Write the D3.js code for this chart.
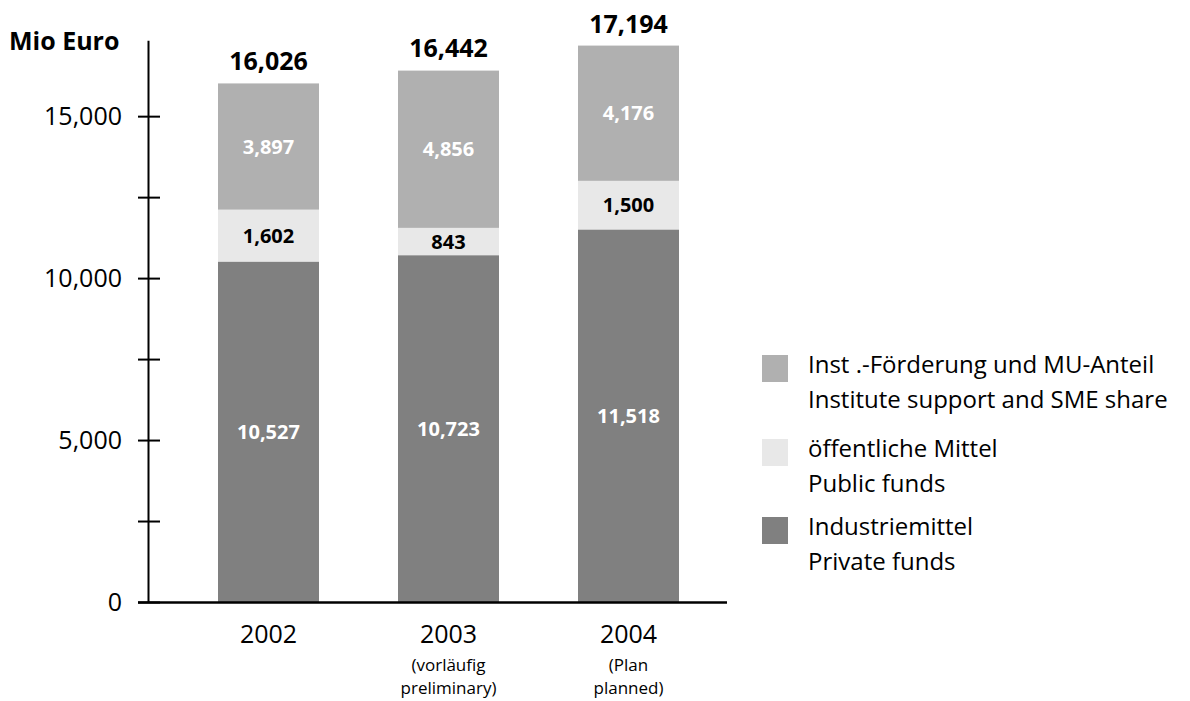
<!DOCTYPE html>
<html>
<head>
<meta charset="utf-8">
<script src="https://cdn.jsdelivr.net/npm/d3@7"></script>
<style>
  body { margin: 0; background: #fff; }
  text { font-family: "Open Sans", "Noto Sans", sans-serif; }
</style>
</head>
<body>
<script>
// Data
var years = ["2002", "2003", "2004"];
var yearNotes = [[], ["(vorläufig", "preliminary)"], ["(Plan", "planned)"]];
var privateFunds = [10527, 10723, 11518];
var publicFunds = [1602, 843, 1500];
var instituteSupport = [3897, 4856, 4176];
var totals = [16026, 16442, 17194];
var seriesNames = [
  ["Inst .-Förderung und MU-Anteil", "Institute support and SME share"],
  ["öffentliche Mittel", "Public funds"],
  ["Industriemittel", "Private funds"]
];
var yTicks = [0, 2500, 5000, 7500, 10000, 12500, 15000];
var yLabels = [0, 5000, 10000, 15000];

var colors = { priv: "#808080", pub: "#e8e8e8", inst: "#b0b0b0" };

var width = 1190, height = 701;

var svg = d3.select("body").append("svg")
    .attr("width", width)
    .attr("height", height);

var axisX = 148.5;

var y = d3.scaleLinear()
    .domain([0, 17345])
    .range([602.5, 40.7]);

// step 180, bar width 101
var x = d3.scaleBand()
    .domain(years)
    .range([128, 769])
    .paddingInner(79 / 180)
    .paddingOuter(0.5);

var fmt = d3.format(",");

// stacked data
var data = years.map(function(yr, i) {
  return { year: yr, priv: privateFunds[i], pub: publicFunds[i], inst: instituteSupport[i], total: totals[i], notes: yearNotes[i] };
});
var stack = d3.stack().keys(["priv", "pub", "inst"]);
var layers = stack(data);

var g = svg.append("g");

layers.forEach(function(layer) {
  var key = layer.key;
  g.selectAll(".bar-" + key).data(layer).enter()
    .append("rect")
    .attr("x", function(d) { return x(d.data.year); })
    .attr("width", x.bandwidth())
    .attr("y", function(d) { return y(d[1]); })
    .attr("height", function(d) { return y(d[0]) - y(d[1]); })
    .style("fill", colors[key]);

  g.selectAll(".lbl-" + key).data(layer).enter()
    .append("text")
    .attr("x", function(d) { return x(d.data.year) + x.bandwidth() / 2; })
    .attr("y", function(d) { return (y(d[0]) + y(d[1])) / 2; })
    .attr("dy", "0.35em")
    .attr("text-anchor", "middle")
    .style("font-size", "20px")
    .style("font-weight", "bold")
    .style("fill", key == "pub" ? "#000" : "#fff")
    .text(function(d) { return fmt(d.data[key]); });
});

// totals
g.selectAll(".total").data(data).enter()
  .append("text")
  .attr("x", function(d) { return x(d.year) + x.bandwidth() / 2; })
  .attr("y", function(d) { return y(d.total) - 13; })
  .attr("text-anchor", "middle")
  .style("font-size", "25px")
  .style("font-weight", "bold")
  .text(function(d) { return fmt(d.total); });

// y axis
svg.append("line")
  .attr("x1", axisX).attr("x2", axisX)
  .attr("y1", y.range()[1]).attr("y2", y(0))
  .attr("stroke", "#000").attr("stroke-width", 2);

svg.selectAll(".ytick").data(yTicks).enter()
  .append("line")
  .attr("x1", 138).attr("x2", 160)
  .attr("y1", function(d) { return y(d); })
  .attr("y2", function(d) { return y(d); })
  .attr("stroke", "#000").attr("stroke-width", 2);

svg.selectAll(".ylabel").data(yLabels).enter()
  .append("text")
  .attr("x", 122)
  .attr("y", function(d) { return y(d); })
  .attr("dy", "0.35em")
  .attr("text-anchor", "end")
  .style("font-size", "25px")
  .text(function(d) { return fmt(d); });

// x axis line
svg.append("line")
  .attr("x1", 138).attr("x2", 727)
  .attr("y1", y(0)).attr("y2", y(0))
  .attr("stroke", "#000").attr("stroke-width", 2.5);

svg.append("text")
  .attr("x", 9).attr("y", 50)
  .style("font-size", "25px")
  .style("font-weight", "bold")
  .text("Mio Euro");

// category labels
var cat = svg.selectAll(".cat").data(data).enter()
  .append("g")
  .attr("transform", function(d) { return "translate(" + (x(d.year) + x.bandwidth() / 2) + ",0)"; });

cat.append("text")
  .attr("y", 643)
  .attr("text-anchor", "middle")
  .style("font-size", "25px")
  .text(function(d) { return d.year; });

cat.selectAll(".note").data(function(d) { return d.notes; }).enter()
  .append("text")
  .attr("y", function(d, i) { return 671 + i * 23; })
  .attr("text-anchor", "middle")
  .style("font-size", "17px")
  .text(function(d) { return d; });

// legend
var legendColors = [colors.inst, colors.pub, colors.priv];
var legendY = [355, 439, 517];
var leg = svg.selectAll(".legend").data(seriesNames).enter()
  .append("g")
  .attr("transform", function(d, i) { return "translate(762," + legendY[i] + ")"; });

leg.append("rect")
  .attr("width", 26).attr("height", 27)
  .style("fill", function(d, i) { return legendColors[i]; });

leg.selectAll("text").data(function(d) { return d; }).enter()
  .append("text")
  .attr("x", 46)
  .attr("y", function(d, i) { return 18 + i * 35; })
  .style("font-size", "24px")
  .text(function(d) { return d; });
</script>
</body>
</html>
